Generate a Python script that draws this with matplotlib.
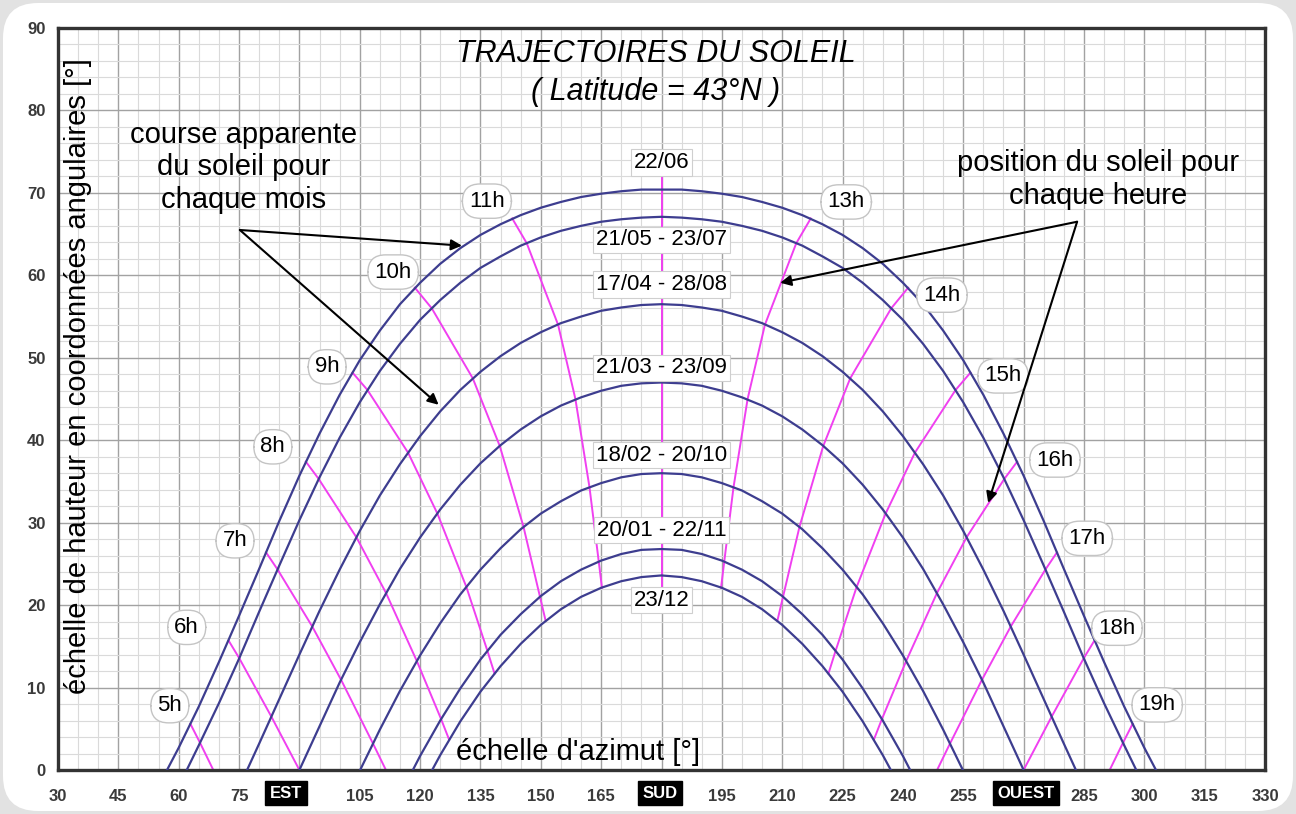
import matplotlib
matplotlib.use("Agg")
import matplotlib.pyplot as plt
from matplotlib.patches import FancyBboxPatch

plt.rcParams["font.family"] = ["Liberation Sans", "DejaVu Sans"]

# course apparente du soleil: azimut [deg] et hauteur [deg] pour chaque date
dates = ["22/06", "21/05 - 23/07", "17/04 - 28/08", "21/03 - 23/09",
         "18/02 - 20/10", "20/01 - 22/11", "23/12"]
date_label_alt = [73.7, 64.3, 58.9, 48.8, 38.2, 29.1, 20.6]

az_jun = [57.1, 60, 65, 70, 75, 80, 85, 90, 95, 100, 105, 110, 115, 120, 125, 130,
          135, 140, 145, 150, 155, 160, 165, 170, 175, 180, 185, 190, 195, 200,
          205, 210, 215, 220, 225, 230, 235, 240, 245, 250, 255, 260, 265, 270,
          275, 280, 285, 290, 295, 300, 302.9]
alt_jun = [0, 2.7, 7.7, 13.1, 18.7, 24.4, 30.2, 35.7, 40.8, 45.5, 49.7, 53.3, 56.5, 59.1,
           61.4, 63.3, 64.9, 66.2, 67.3, 68.2, 68.9, 69.5, 69.9, 70.2, 70.4, 70.4, 70.4,
           70.2, 69.9, 69.5, 68.9, 68.2, 67.3, 66.2, 64.9, 63.3, 61.4, 59.1, 56.5, 53.3,
           49.7, 45.5, 40.8, 35.7, 30.2, 24.4, 18.7, 13.1, 7.7, 2.7, 0]

az_may = [62.0, 65, 70, 75, 80, 85, 90, 95, 100, 105, 110, 115, 120, 125, 130, 135,
          140, 145, 150, 155, 160, 165, 170, 175, 180, 185, 190, 195, 200, 205, 210,
          215, 220, 225, 230, 235, 240, 245, 250, 255, 260, 265, 270, 275, 280, 285,
          290, 295, 298.0]
alt_may = [0, 3.0, 8.1, 13.5, 19.2, 24.8, 30.3, 35.5, 40.3, 44.6, 48.4, 51.7, 54.6, 57.0,
           59.1, 60.9, 62.3, 63.6, 64.6, 65.4, 66.0, 66.5, 66.8, 67.0, 67.1, 67.0, 66.8,
           66.5, 66.0, 65.4, 64.6, 63.6, 62.3, 60.9, 59.1, 57.0, 54.6, 51.7, 48.4, 44.6,
           40.3, 35.5, 30.3, 24.8, 19.2, 13.5, 8.1, 3.0, 0]

az_apr = [77.0, 80, 85, 90, 95, 100, 105, 110, 115, 120, 125, 130, 135, 140, 145,
          150, 155, 160, 165, 170, 175, 180, 185, 190, 195, 200, 205, 210, 215, 220,
          225, 230, 235, 240, 245, 250, 255, 260, 265, 270, 275, 280, 283.0]
alt_apr = [0, 3.2, 8.6, 14.0, 19.3, 24.3, 29.0, 33.3, 37.1, 40.5, 43.5, 46.1, 48.3, 50.2,
           51.8, 53.1, 54.2, 55.0, 55.7, 56.1, 56.4, 56.5, 56.4, 56.1, 55.7, 55.0, 54.2,
           53.1, 51.8, 50.2, 48.3, 46.1, 43.5, 40.5, 37.1, 33.3, 29.0, 24.3, 19.3, 14.0,
           8.6, 3.2, 0]

az_mar = [90, 95, 100, 105, 110, 115, 120, 125, 130, 135, 140, 145, 150, 155, 160,
          165, 170, 175, 180, 185, 190, 195, 200, 205, 210, 215, 220, 225, 230, 235,
          240, 245, 250, 255, 260, 265, 270]
alt_mar = [0, 5.3, 10.6, 15.5, 20.1, 24.4, 28.2, 31.6, 34.6, 37.2, 39.4, 41.3, 42.9,
           44.2, 45.2, 46.0, 46.6, 46.9, 47.0, 46.9, 46.6, 46.0, 45.2, 44.2, 42.9, 41.3,
           39.4, 37.2, 34.6, 31.6, 28.2, 24.4, 20.1, 15.5, 10.6, 5.3, 0]

az_feb = [105.1, 110, 115, 120, 125, 130, 135, 140, 145, 150, 155, 160, 165, 170,
          175, 180, 185, 190, 195, 200, 205, 210, 215, 220, 225, 230, 235, 240, 245,
          250, 254.9]
alt_feb = [0, 4.9, 9.6, 13.9, 17.8, 21.3, 24.3, 26.9, 29.2, 31.1, 32.6, 33.9, 34.8, 35.5,
           35.9, 36.0, 35.9, 35.5, 34.8, 33.9, 32.6, 31.1, 29.2, 26.9, 24.3, 21.3, 17.8,
           13.9, 9.6, 4.9, 0]

az_jan = [118.2, 120, 125, 130, 135, 140, 145, 150, 155, 160, 165, 170, 175, 180,
          185, 190, 195, 200, 205, 210, 215, 220, 225, 230, 235, 240, 241.8]
alt_jan = [0, 1.7, 6.0, 9.9, 13.4, 16.4, 18.9, 21.1, 22.9, 24.3, 25.4, 26.2, 26.7, 26.8,
           26.7, 26.2, 25.4, 24.3, 22.9, 21.1, 18.9, 16.4, 13.4, 9.9, 6.0, 1.7, 0]

az_dec = [123.0, 125, 130, 135, 140, 145, 150, 155, 160, 165, 170, 175, 180, 185,
          190, 195, 200, 205, 210, 215, 220, 225, 230, 235, 237.0]
alt_dec = [0, 1.8, 5.9, 9.5, 12.6, 15.3, 17.6, 19.5, 21.0, 22.1, 22.9, 23.4, 23.6, 23.4,
           22.9, 22.1, 21.0, 19.5, 17.6, 15.3, 12.6, 9.5, 5.9, 1.8, 0]

month_curves = [(az_jun, alt_jun), (az_may, alt_may), (az_apr, alt_apr),
                (az_mar, alt_mar), (az_feb, alt_feb), (az_jan, alt_jan),
                (az_dec, alt_dec)]

# position du soleil pour chaque heure (du 22/06 vers le 23/12 ou l'horizon)
hour_names = ["5h", "6h", "7h", "8h", "9h", "10h", "11h", "12h",
              "13h", "14h", "15h", "16h", "17h", "18h", "19h"]
hour_az = [
    [62.9, 65.3, 68.6],
    [72.4, 75.0, 83.0, 90.0],
    [81.7, 84.6, 93.2, 100.4, 108.3, 111.5],
    [91.6, 94.8, 104.2, 111.5, 119.2, 125.2, 127.2],
    [103.2, 106.9, 117.0, 124.3, 131.5, 136.7, 138.5],
    [118.7, 122.9, 133.1, 139.8, 145.7, 149.8, 151.2],
    [142.9, 146.5, 154.3, 158.6, 162.1, 164.4, 165.2],
    [180, 180],
    [217.1, 213.5, 205.7, 201.4, 197.9, 195.6, 194.8],
    [241.3, 237.1, 226.9, 220.2, 214.3, 210.2, 208.8],
    [256.8, 253.1, 243.0, 235.7, 228.5, 223.3, 221.5],
    [268.4, 265.2, 255.8, 248.5, 240.8, 234.8, 232.8],
    [278.3, 275.4, 266.8, 259.6, 251.7, 248.5],
    [287.6, 285.0, 277.0, 270.0],
    [297.1, 294.7, 291.4],
]
hour_alt = [
    [5.6, 3.3, 0],
    [15.7, 13.6, 6.5, 0],
    [26.4, 24.3, 17.4, 10.9, 3.2, 0],
    [37.4, 35.3, 28.2, 21.5, 13.2, 6.2, 3.7],
    [48.2, 46.1, 38.5, 31.1, 22.2, 14.5, 11.7],
    [58.5, 56.0, 47.5, 39.3, 29.5, 21.0, 18.1],
    [66.9, 63.9, 54.0, 45.0, 34.3, 25.3, 22.1],
    [73.7, 20.6],
    [66.9, 63.9, 54.0, 45.0, 34.3, 25.3, 22.1],
    [58.5, 56.0, 47.5, 39.3, 29.5, 21.0, 18.1],
    [48.2, 46.1, 38.5, 31.1, 22.2, 14.5, 11.7],
    [37.4, 35.3, 28.2, 21.5, 13.2, 6.2, 3.7],
    [26.4, 24.3, 17.4, 10.9, 3.2, 0],
    [15.7, 13.6, 6.5, 0],
    [5.6, 3.3, 0],
]

# etiquettes des heures (12h est sur la ligne du sud, sans etiquette)
label_hours = ["5h", "6h", "7h", "8h", "9h", "10h", "11h",
               "13h", "14h", "15h", "16h", "17h", "18h", "19h"]
label_az = [57.8, 62.0, 74.0, 83.4, 96.9, 113.3, 136.6,
            225.9, 249.7, 264.9, 277.8, 285.8, 293.2, 303.2]
label_alt = [7.8, 17.3, 27.8, 39.2, 48.9, 60.4, 69.0,
             68.9, 57.6, 47.8, 37.6, 28.1, 17.2, 7.9]

x_ticks = [30, 45, 60, 75, 90, 105, 120, 135, 150, 165, 180,
           195, 210, 225, 240, 255, 270, 285, 300, 315, 330]
x_tick_labels = ["30", "45", "60", "75", "", "105", "120", "135", "150", "165", "",
                 "195", "210", "225", "240", "255", "", "285", "300", "315", "330"]
cardinal_names = ["EST", "SUD", "OUEST"]
cardinal_az = [86.7, 179.6, 270.6]

curve_color = "#3d3d8f"
hour_color = "#f040f0"

fig = plt.figure(figsize=(12.96, 8.14), dpi=100, facecolor="#e2e2e2")
panel = FancyBboxPatch((0.03, 0.03), 12.9, 8.08,
                       boxstyle="round,pad=0,rounding_size=0.35",
                       transform=fig.dpi_scale_trans, facecolor="white",
                       edgecolor="none", zorder=-10)
fig.patches.append(panel)

ax = fig.add_axes([58 / 1296, 44 / 814, 1207 / 1296, 742 / 814])
ax.set_xlim(30, 330)
ax.set_ylim(0, 90)

ax.set_xticks(x_ticks)
ax.set_xticklabels(x_tick_labels)
ax.set_xticks(range(30, 331, 5), minor=True)
ax.set_yticks(range(0, 91, 10))
ax.set_yticks(range(0, 91, 2), minor=True)
ax.grid(which="major", color="#a2a2a2", lw=1.0, zorder=0)
ax.grid(which="minor", color="#dadada", lw=0.8, zorder=0)
ax.set_axisbelow(True)
ax.tick_params(which="both", length=0)
ax.tick_params(axis="x", pad=14, labelsize=12, labelcolor="#3a3a3a")
ax.tick_params(axis="y", pad=9, labelsize=12, labelcolor="#3a3a3a")
for lab in ax.get_xticklabels() + ax.get_yticklabels():
    lab.set_fontweight("bold")
for side in ax.spines.values():
    side.set_linewidth(2.4)
    side.set_color("#333333")

for name, x in zip(cardinal_names, cardinal_az):
    ax.text(x, -2.8, name, color="white", fontsize=12, fontweight="bold",
            ha="center", va="center",
            bbox=dict(boxstyle="square,pad=0.28", fc="black", ec="black"))

for az, alt in zip(hour_az, hour_alt):
    ax.plot(az, alt, color=hour_color, lw=1.4, zorder=2)

for az, alt in month_curves:
    ax.plot(az, alt, color=curve_color, lw=1.6, zorder=3)

for name, y in zip(dates, date_label_alt):
    ax.text(180, y, name, fontsize=16, ha="center", va="center", zorder=5,
            bbox=dict(boxstyle="square,pad=0.12", fc="white", ec="#cfcfcf", lw=0.8))

for name, x, y in zip(label_hours, label_az, label_alt):
    ax.text(x, y, name, fontsize=16, ha="center", va="center", zorder=5,
            bbox=dict(boxstyle="round,pad=0.3,rounding_size=0.8",
                      fc="white", ec="#c4c4c4", lw=1.0))

ax.text(178.5, 86.9, "TRAJECTOIRES DU SOLEIL", fontsize=22, style="italic",
        ha="center", va="center")
ax.text(178.5, 82.2, "( Latitude = 43°N )", fontsize=22, style="italic",
        ha="center", va="center")

ax.text(76.1, 73.1, "course apparente\ndu soleil pour\nchaque mois", fontsize=21,
        ha="center", va="center", linespacing=1.2)
ax.text(288.4, 71.6, "position du soleil pour\nchaque heure", fontsize=21,
        ha="center", va="center", linespacing=1.2)

ax.text(35.0, 47.8, "échelle de hauteur en coordonnées angulaires [°]", fontsize=21,
        rotation=90, ha="center", va="center")
ax.text(159.3, 2.2, "échelle d'azimut [°]", fontsize=21, ha="center", va="center")

arrow = dict(arrowstyle="-|>", color="black", lw=1.5, mutation_scale=16,
             shrinkA=0, shrinkB=0)
ax.annotate("", xy=(130.4, 63.6), xytext=(75.2, 65.5), arrowprops=arrow, zorder=6)
ax.annotate("", xy=(124.6, 44.3), xytext=(75.2, 65.5), arrowprops=arrow, zorder=6)
ax.annotate("", xy=(209.5, 59.1), xytext=(283.3, 66.5), arrowprops=arrow, zorder=6)
ax.annotate("", xy=(261.2, 32.4), xytext=(283.3, 66.5), arrowprops=arrow, zorder=6)

fig.savefig("out.png", dpi=100, facecolor=fig.get_facecolor())
